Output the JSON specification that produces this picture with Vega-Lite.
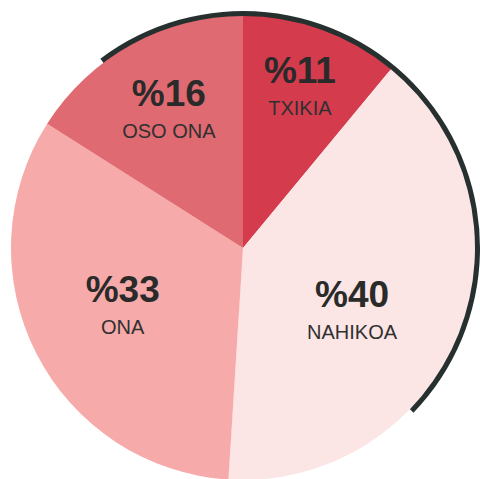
{
  "$schema": "https://vega.github.io/schema/vega-lite/v6.json",
  "width": 480,
  "height": 479,
  "autosize": {"type": "fit", "contains": "padding"},
  "padding": {"left": 6, "right": 0, "top": 17, "bottom": 0},
  "background": "#ffffff",
  "config": {"view": {"stroke": null}},
  "datasets": {
    "slices": [
      {"name": "TXIKIA", "pct": 11, "label": "%11", "order": 1},
      {"name": "NAHIKOA", "pct": 40, "label": "%40", "order": 2},
      {"name": "ONA", "pct": 33, "label": "%33", "order": 3},
      {"name": "OSO ONA", "pct": 16, "label": "%16", "order": 4}
    ],
    "rim": [
      {"seg": "dark", "deg": 171, "order": 1},
      {"seg": "none", "deg": 189, "order": 2}
    ]
  },
  "layer": [
    {
      "data": {"name": "rim"},
      "mark": {"type": "arc", "radius": 237, "radius2": 230},
      "encoding": {
        "theta": {"field": "deg", "type": "quantitative", "stack": true, "scale": {"range": [-0.6458, 5.6374]}},
        "order": {"field": "order"},
        "color": {"field": "seg", "type": "nominal", "scale": {"domain": ["dark", "none"], "range": ["#26302e", "#ffffff"]}, "legend": null},
        "opacity": {"field": "seg", "type": "nominal", "scale": {"domain": ["dark", "none"], "range": [1, 0]}, "legend": null}
      }
    },
    {
      "data": {"name": "slices"},
      "layer": [
        {
          "mark": {"type": "arc", "radius": 232},
          "encoding": {
            "theta": {"field": "pct", "type": "quantitative", "stack": true},
            "order": {"field": "order"},
            "color": {"field": "name", "type": "nominal", "scale": {"domain": ["TXIKIA", "NAHIKOA", "ONA", "OSO ONA"], "range": ["#d43c4e", "#fbe5e5", "#f6aaa9", "#df6a71"]}, "legend": null}
          }
        },
        {
          "mark": {"type": "text", "font": "Liberation Sans", "fontWeight": "bold", "fontSize": 37, "fill": "#2a2a2a", "dy": -18, "baseline": "middle", "align": "center"},
          "encoding": {
            "theta": {"field": "pct", "type": "quantitative", "stack": true},
            "order": {"field": "order"},
            "radius": {"field": "pct", "type": "quantitative", "scale": {"type": "linear", "domain": [11, 16, 33, 40], "range": [168, 154, 135, 127], "zero": false}},
            "text": {"condition": {"test": "datum.name === 'NAHIKOA'", "value": ""}, "field": "label"}
          }
        },
        {
          "mark": {"type": "text", "font": "Liberation Sans", "fontSize": 20, "fill": "#303030", "dy": 19, "baseline": "middle", "align": "center"},
          "encoding": {
            "theta": {"field": "pct", "type": "quantitative", "stack": true},
            "order": {"field": "order"},
            "radius": {"field": "pct", "type": "quantitative", "scale": {"type": "linear", "domain": [11, 16, 33, 40], "range": [168, 154, 135, 127], "zero": false}},
            "text": {"condition": {"test": "datum.name === 'NAHIKOA'", "value": ""}, "field": "name"}
          }
        },
        {
          "mark": {"type": "text", "font": "Liberation Sans", "fontWeight": "bold", "fontSize": 37, "fill": "#2a2a2a", "radius": 127, "dx": -9, "dy": 1, "baseline": "middle", "align": "center"},
          "encoding": {
            "theta": {"field": "pct", "type": "quantitative", "stack": true},
            "order": {"field": "order"},
            "text": {"condition": {"test": "datum.name !== 'NAHIKOA'", "value": ""}, "field": "label"}
          }
        },
        {
          "mark": {"type": "text", "font": "Liberation Sans", "fontSize": 20, "fill": "#303030", "radius": 127, "dx": -9, "dy": 38, "baseline": "middle", "align": "center"},
          "encoding": {
            "theta": {"field": "pct", "type": "quantitative", "stack": true},
            "order": {"field": "order"},
            "text": {"condition": {"test": "datum.name !== 'NAHIKOA'", "value": ""}, "field": "name"}
          }
        }
      ]
    }
  ],
  "resolve": {"scale": {"theta": "independent", "color": "independent", "opacity": "independent"}}
}
